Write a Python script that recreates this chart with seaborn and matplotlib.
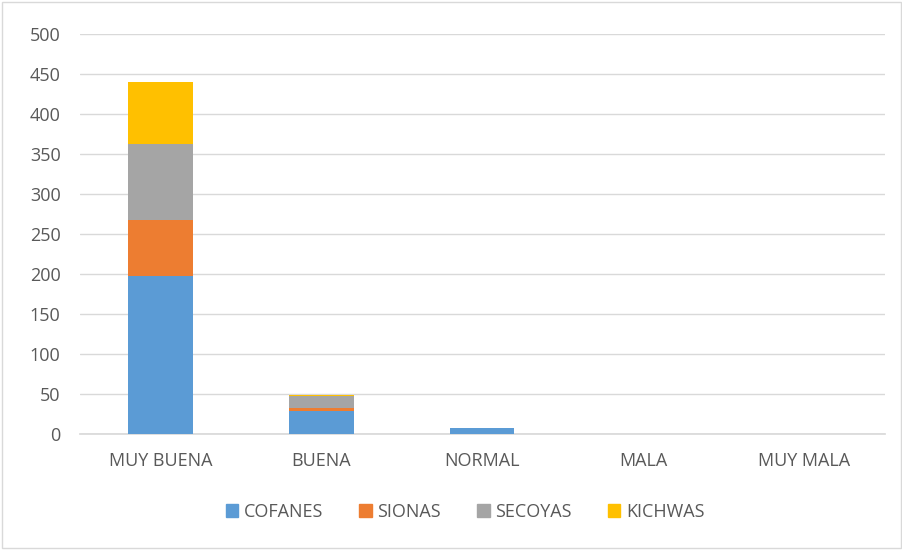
import matplotlib
matplotlib.use("Agg")
import matplotlib.pyplot as plt
import seaborn as sns
import pandas as pd
import numpy as np
from matplotlib.patches import Rectangle

categories = ["MUY BUENA", "BUENA", "NORMAL", "MALA", "MUY MALA"]
series = ["COFANES", "SIONAS", "SECOYAS", "KICHWAS"]
cofanes = [198, 29, 7, 0, 0]
sionas = [70, 4, 0, 0, 0]
secoyas = [94, 14, 0, 0, 0]
kichwas = [78, 2, 0, 0, 0]
colors = ["#5B9BD5", "#ED7D31", "#A5A5A5", "#FFC000"]
yticks = [0, 50, 100, 150, 200, 250, 300, 350, 400, 450, 500]

sns.set_theme(style="white")
plt.rcParams['font.family'] = ['Open Sans', 'DejaVu Sans']

fig = plt.figure(figsize=(9.03, 5.5), dpi=100)
ax = fig.add_axes([0.0886, 0.211, 0.891, 0.727])

vals = [cofanes, sionas, secoyas, kichwas]
bottom = np.zeros(len(categories))
for name, v, c in zip(series, vals, colors):
    df = pd.DataFrame({"cat": categories, "val": np.array(v) + bottom})
    sns.barplot(data=df, x="cat", y="val", color=c, ax=ax, width=0.4,
                saturation=1)
    bottom = bottom + np.array(v)

for i, cont in enumerate(ax.containers):
    for p in cont.patches:
        p.set_zorder(10 - i)
        p.set_edgecolor("none")

ax.set_ylim(0, 500)
ax.set_yticks(yticks)
ax.set_xlim(-0.5, 4.5)
ax.set_xlabel("")
ax.set_ylabel("")
ax.grid(axis="y", color="#D9D9D9", linewidth=1, zorder=0)
ax.set_axisbelow(True)
for s in ["top", "right", "left"]:
    ax.spines[s].set_visible(False)
ax.spines["bottom"].set_color("#D9D9D9")
ax.tick_params(axis="both", length=0, labelsize=13, colors="#595959")
ax.tick_params(axis="y", pad=14)
ax.tick_params(axis="x", pad=13)

handles = [Rectangle((0, 0), 1, 1, color=c) for c in colors]
fig.legend(handles, series, loc="center", bbox_to_anchor=(0.515, 0.069), ncol=4,
           frameon=False, fontsize=13, handlelength=0.7, handleheight=0.7,
           handletextpad=0.3, columnspacing=2.0, labelcolor="#595959")

fig.add_artist(Rectangle((0.002, 0.003), 0.996, 0.994, transform=fig.transFigure,
                         fill=False, edgecolor="#D9D9D9", linewidth=1))
fig.savefig("out.png", dpi=100, facecolor="white")
